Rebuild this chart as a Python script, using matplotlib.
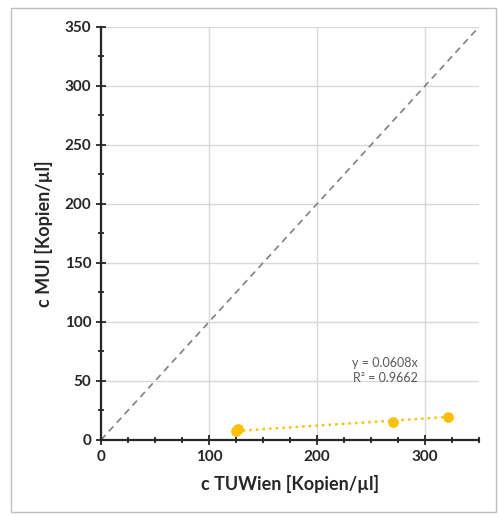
import matplotlib
matplotlib.use("Agg")
import matplotlib.pyplot as plt
from matplotlib.patches import Rectangle
from matplotlib.ticker import MultipleLocator

plt.rcParams['font.family'] = ['Lato', 'DejaVu Sans']

x_tuwien = [125, 127, 270, 321]
y_mui = [7.5, 9.0, 15.5, 19.5]
slope = 0.0608
r2 = 0.9662

fig = plt.figure(figsize=(4.99, 5.17), dpi=100)
fig.patches.append(Rectangle((0.022, 0.01), 0.972, 0.975, transform=fig.transFigure,
                             fill=False, edgecolor='#bfbfbf', linewidth=1))
ax = fig.add_axes([0.2024, 0.149, 0.7576, 0.799])

ax.plot([0, 350], [0, 350], color='#808080', linestyle=(0, (4, 3)), linewidth=1.2)

x_fit = [min(x_tuwien), max(x_tuwien)]
ax.plot(x_fit, [slope * v for v in x_fit], color='#ffc000', linestyle=':', linewidth=1.8)
ax.scatter(x_tuwien, y_mui, s=45, color='#ffc000', zorder=3)

ax.text(263, 59, f"y = {slope}x\nR² = {r2}", ha='center', va='center',
        fontsize=9, color='#595959', linespacing=1.25)

ax.set_xlim(0, 350)
ax.set_ylim(0, 350)
ax.xaxis.set_major_locator(MultipleLocator(100))
ax.xaxis.set_minor_locator(MultipleLocator(25))
ax.yaxis.set_major_locator(MultipleLocator(50))
ax.yaxis.set_minor_locator(MultipleLocator(25))
ax.grid(True, which='major', color='#d9d9d9', linewidth=1)
ax.set_axisbelow(True)

for s in ['top', 'right']:
    ax.spines[s].set_visible(False)
for s in ['left', 'bottom']:
    ax.spines[s].set_linewidth(1.6)
    ax.spines[s].set_color('#262626')

ax.tick_params(which='both', direction='inout', width=1.3, color='#262626')
ax.tick_params(which='major', length=7, labelsize=11)
ax.tick_params(which='minor', length=5)
for lab in ax.get_xticklabels() + ax.get_yticklabels():
    lab.set_fontweight('bold')
    lab.set_color('#262626')

ax.set_xlabel("c TUWien [Kopien/µl]", fontsize=13, fontweight='bold', color='#262626', labelpad=8)
ax.set_ylabel("c MUI [Kopien/µl]", fontsize=13, fontweight='bold', color='#262626', labelpad=8)

fig.savefig("out.png", dpi=100)
